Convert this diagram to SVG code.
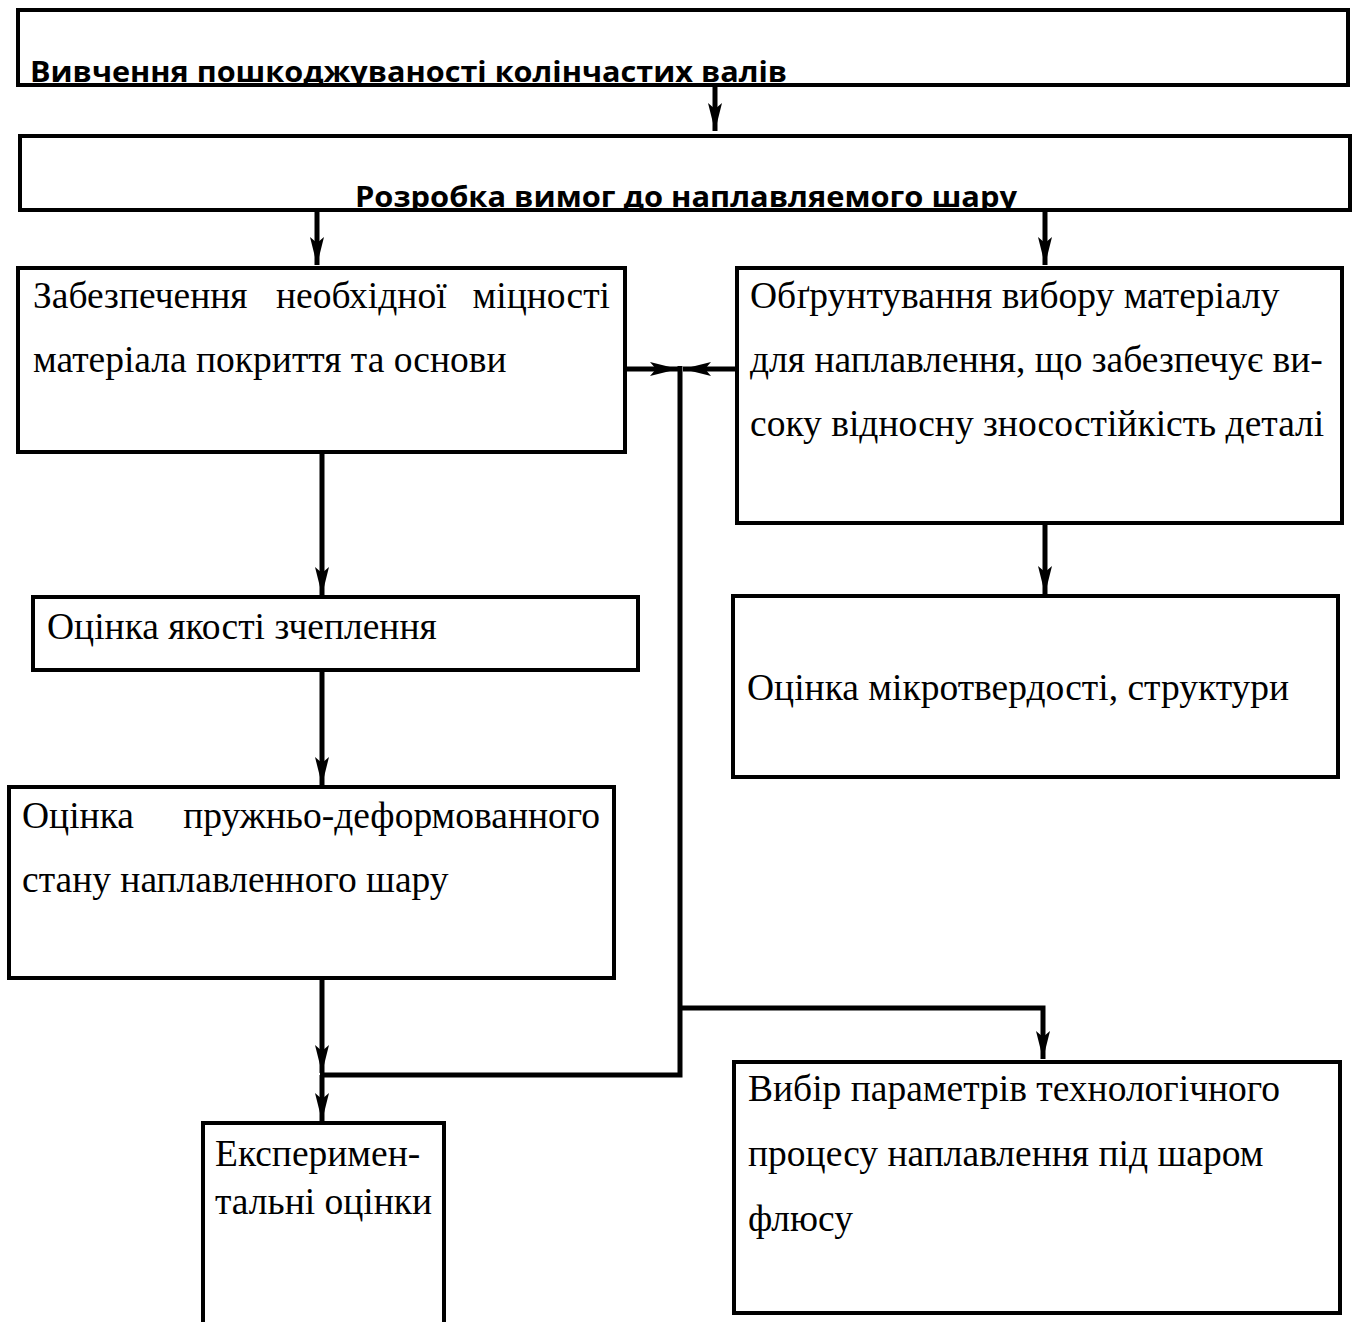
<svg xmlns="http://www.w3.org/2000/svg" width="1356" height="1322" viewBox="0 0 1356 1322">
<style>
.box{fill:#fff;stroke:#000;stroke-width:4}
.t{font-family:"Liberation Serif","Times New Roman",serif;font-size:37.5px;fill:#000}
.h{font-family:"Open Sans","Liberation Sans",sans-serif;font-weight:bold;font-size:29px;fill:#000}
.c{fill:none;stroke:#000;stroke-width:5}
</style>
<defs>
<marker id="ah" viewBox="0 0 28 14" refX="28" refY="7" markerWidth="28" markerHeight="14" markerUnits="userSpaceOnUse" orient="auto">
<path d="M0,0 L28,7 L0,14 L6,7 Z" fill="#000"/>
</marker>
<clipPath id="c1"><rect x="18" y="10" width="1330" height="74"/></clipPath>
<clipPath id="c2"><rect x="20" y="136" width="1330" height="73"/></clipPath>
</defs>
<rect width="1356" height="1322" fill="#fff"/>
<g id="n1">
<rect class="box" x="18" y="10" width="1330" height="75"/>
<text class="h" x="30" y="82" clip-path="url(#c1)" textLength="757" lengthAdjust="spacingAndGlyphs">Вивчення  пошкоджуваності колінчастих валів</text>
</g>
<g id="n2">
<rect class="box" x="20" y="136" width="1330" height="74"/>
<text class="h" x="355" y="207" clip-path="url(#c2)" textLength="662" lengthAdjust="spacingAndGlyphs">Розробка вимог до наплавляемого шару</text>
</g>
<g id="n3">
<rect class="box" x="18" y="268" width="607" height="184"/>
<text class="t" y="308"><tspan x="33">Забезпечення</tspan><tspan x="276">необхідної</tspan><tspan x="610" text-anchor="end">міцності</tspan></text>
<text class="t" x="33" y="372">матеріала покриття та основи</text>
</g>
<g id="n4">
<rect class="box" x="737" y="268" width="605" height="255"/>
<text class="t" x="750" y="308">Обґрунтування вибору матеріалу</text>
<text class="t" x="750" y="372">для наплавлення, що забезпечує ви-</text>
<text class="t" x="750" y="436">соку відносну зносостійкість деталі</text>
</g>
<g id="n5">
<rect class="box" x="33" y="597" width="605" height="73"/>
<text class="t" x="47" y="639">Оцінка якості зчеплення</text>
</g>
<g id="n6">
<rect class="box" x="9" y="787" width="605" height="191"/>
<text class="t" y="828"><tspan x="22">Оцінка</tspan><tspan x="600" text-anchor="end">пружньо-деформованного</tspan></text>
<text class="t" x="22" y="892">стану наплавленного шару</text>
</g>
<g id="n7">
<rect class="box" x="203" y="1123" width="241" height="205"/>
<text class="t" x="215" y="1166">Експеримен-</text>
<text class="t" x="215" y="1214">тальні оцінки</text>
</g>
<g id="n8">
<rect class="box" x="733" y="596" width="605" height="181"/>
<text class="t" x="747" y="700">Оцінка мікротвердості, структури</text>
</g>
<g id="n9">
<rect class="box" x="734" y="1062" width="606" height="251"/>
<text class="t" x="748" y="1101">Вибір параметрів технологічного</text>
<text class="t" x="748" y="1166">процесу наплавлення під шаром</text>
<text class="t" x="748" y="1231">флюсу</text>
</g>
<g id="connectors">
<line class="c" x1="715" y1="85" x2="715" y2="131" marker-end="url(#ah)"/>
<line class="c" x1="317" y1="210" x2="317" y2="265" marker-end="url(#ah)"/>
<line class="c" x1="1045" y1="210" x2="1045" y2="265" marker-end="url(#ah)"/>
<line class="c" x1="625" y1="369" x2="678" y2="369" marker-end="url(#ah)"/>
<line class="c" x1="737" y1="369" x2="683" y2="369" marker-end="url(#ah)"/>
<polyline class="c" points="680,366 680,1075 320,1075"/>
<polyline class="c" points="680,1008 1043,1008 1043,1059" marker-end="url(#ah)"/>
<line class="c" x1="322" y1="452" x2="322" y2="595" marker-end="url(#ah)"/>
<line class="c" x1="322" y1="670" x2="322" y2="785" marker-end="url(#ah)"/>
<line class="c" x1="322" y1="978" x2="322" y2="1073" marker-end="url(#ah)"/>
<line class="c" x1="322" y1="1075" x2="322" y2="1121" marker-end="url(#ah)"/>
<line class="c" x1="1045" y1="523" x2="1045" y2="594" marker-end="url(#ah)"/>
</g>
</svg>
